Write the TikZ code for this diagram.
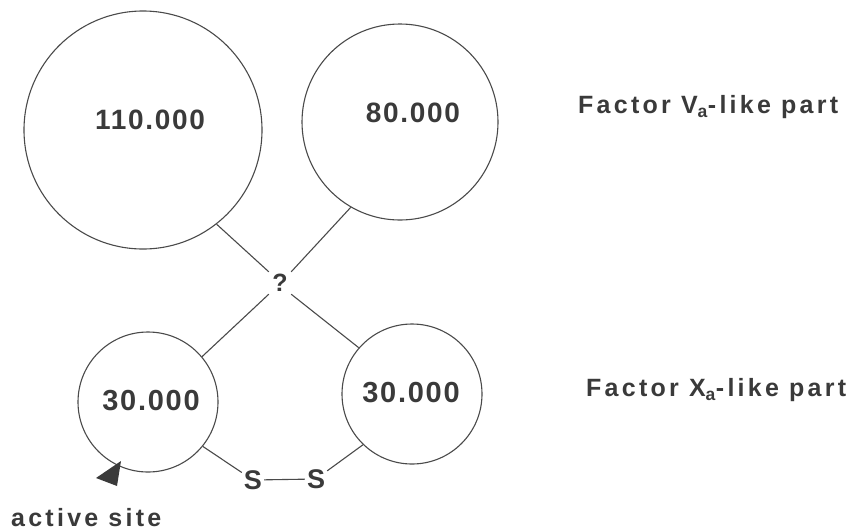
\documentclass[tikz,border=0pt]{standalone}
\usepackage{fontspec}
\setmainfont{Liberation Sans}
\newfontfamily\lblfont[LetterSpace=13]{Liberation Sans Bold}
\newfontfamily\numfont[LetterSpace=6]{Liberation Sans Bold}
\definecolor{ink}{HTML}{3A3A3A}
\definecolor{wire}{HTML}{4A4A4A}
\tikzset{
  protdomain/.style={circle, draw=wire, line width=1.1pt, inner sep=0pt},
  mass/.style={font=\numfont\fontsize{28}{30}\selectfont, text=ink, inner sep=0pt},
  partlabel/.style={font=\lblfont\fontsize{25}{28}\selectfont, text=ink, inner sep=0pt},
  link/.style={draw=wire, line width=1.1pt},
  sulfur/.style={font=\numfont\fontsize{27}{29}\selectfont, text=ink, inner sep=2pt}
}
\begin{document}
\begin{tikzpicture}[x=1pt, y=-1pt]
\useasboundingbox (0,0) rectangle (867,531);

% heavy-chain domains
\node[protdomain, minimum size=238pt] (c1) at (143,130) {};
\node[protdomain, minimum size=196pt] (c2) at (400,122) {};
% light-chain domains
\node[protdomain, minimum size=140pt] (c3) at (148,402) {};
\node[protdomain, minimum size=140pt] (c4) at (412,394) {};

% molecular masses
\node[mass] (m1) at (150,120) {110.000};
\node[mass] (m2) at (413,113) {80.000};
\node[mass, font=\numfont\fontsize{29}{31}\selectfont] (m3) at (151,401) {30.000};
\node[mass, font=\numfont\fontsize{29}{31}\selectfont] (m4) at (411,393) {30.000};

% unknown junction
\node[font=\numfont\fontsize{25}{28}\selectfont, text=ink, inner sep=0pt,
      minimum width=22pt, minimum height=22pt] (q) at (280,283) {?};

\draw[link] (c1.-52.6) -- (q.north west);
\draw[link] (c2.-120) -- (q.north east);
\draw[link] (q.south west) -- (c3.40);
\draw[link] (q.south east) -- (c4.139.5);

% disulfide bridge
\node[sulfur] (s1) at (253,480) {S};
\node[sulfur] (s2) at (316,479) {S};
\draw[link] (c3.-39) -- (s1);
\draw[link] (c4.-134) -- (s2);
\draw[link] (s1) -- (s2);

% active site marker
\coordinate (tip) at (121,461);
\fill[ink] (tip) -- (96,478) -- (117,486) -- cycle;
\node[partlabel, font=\lblfont\fontsize{25}{27}\selectfont, anchor=base west] (act) at (11,526) {active site};

% part labels
\node[partlabel, anchor=west] (lv) at (578,107) {Factor V\textsubscript{a}-like part};
\node[partlabel, anchor=west] (lx) at (586,390) {Factor X\textsubscript{a}-like part};
\end{tikzpicture}
\end{document}
